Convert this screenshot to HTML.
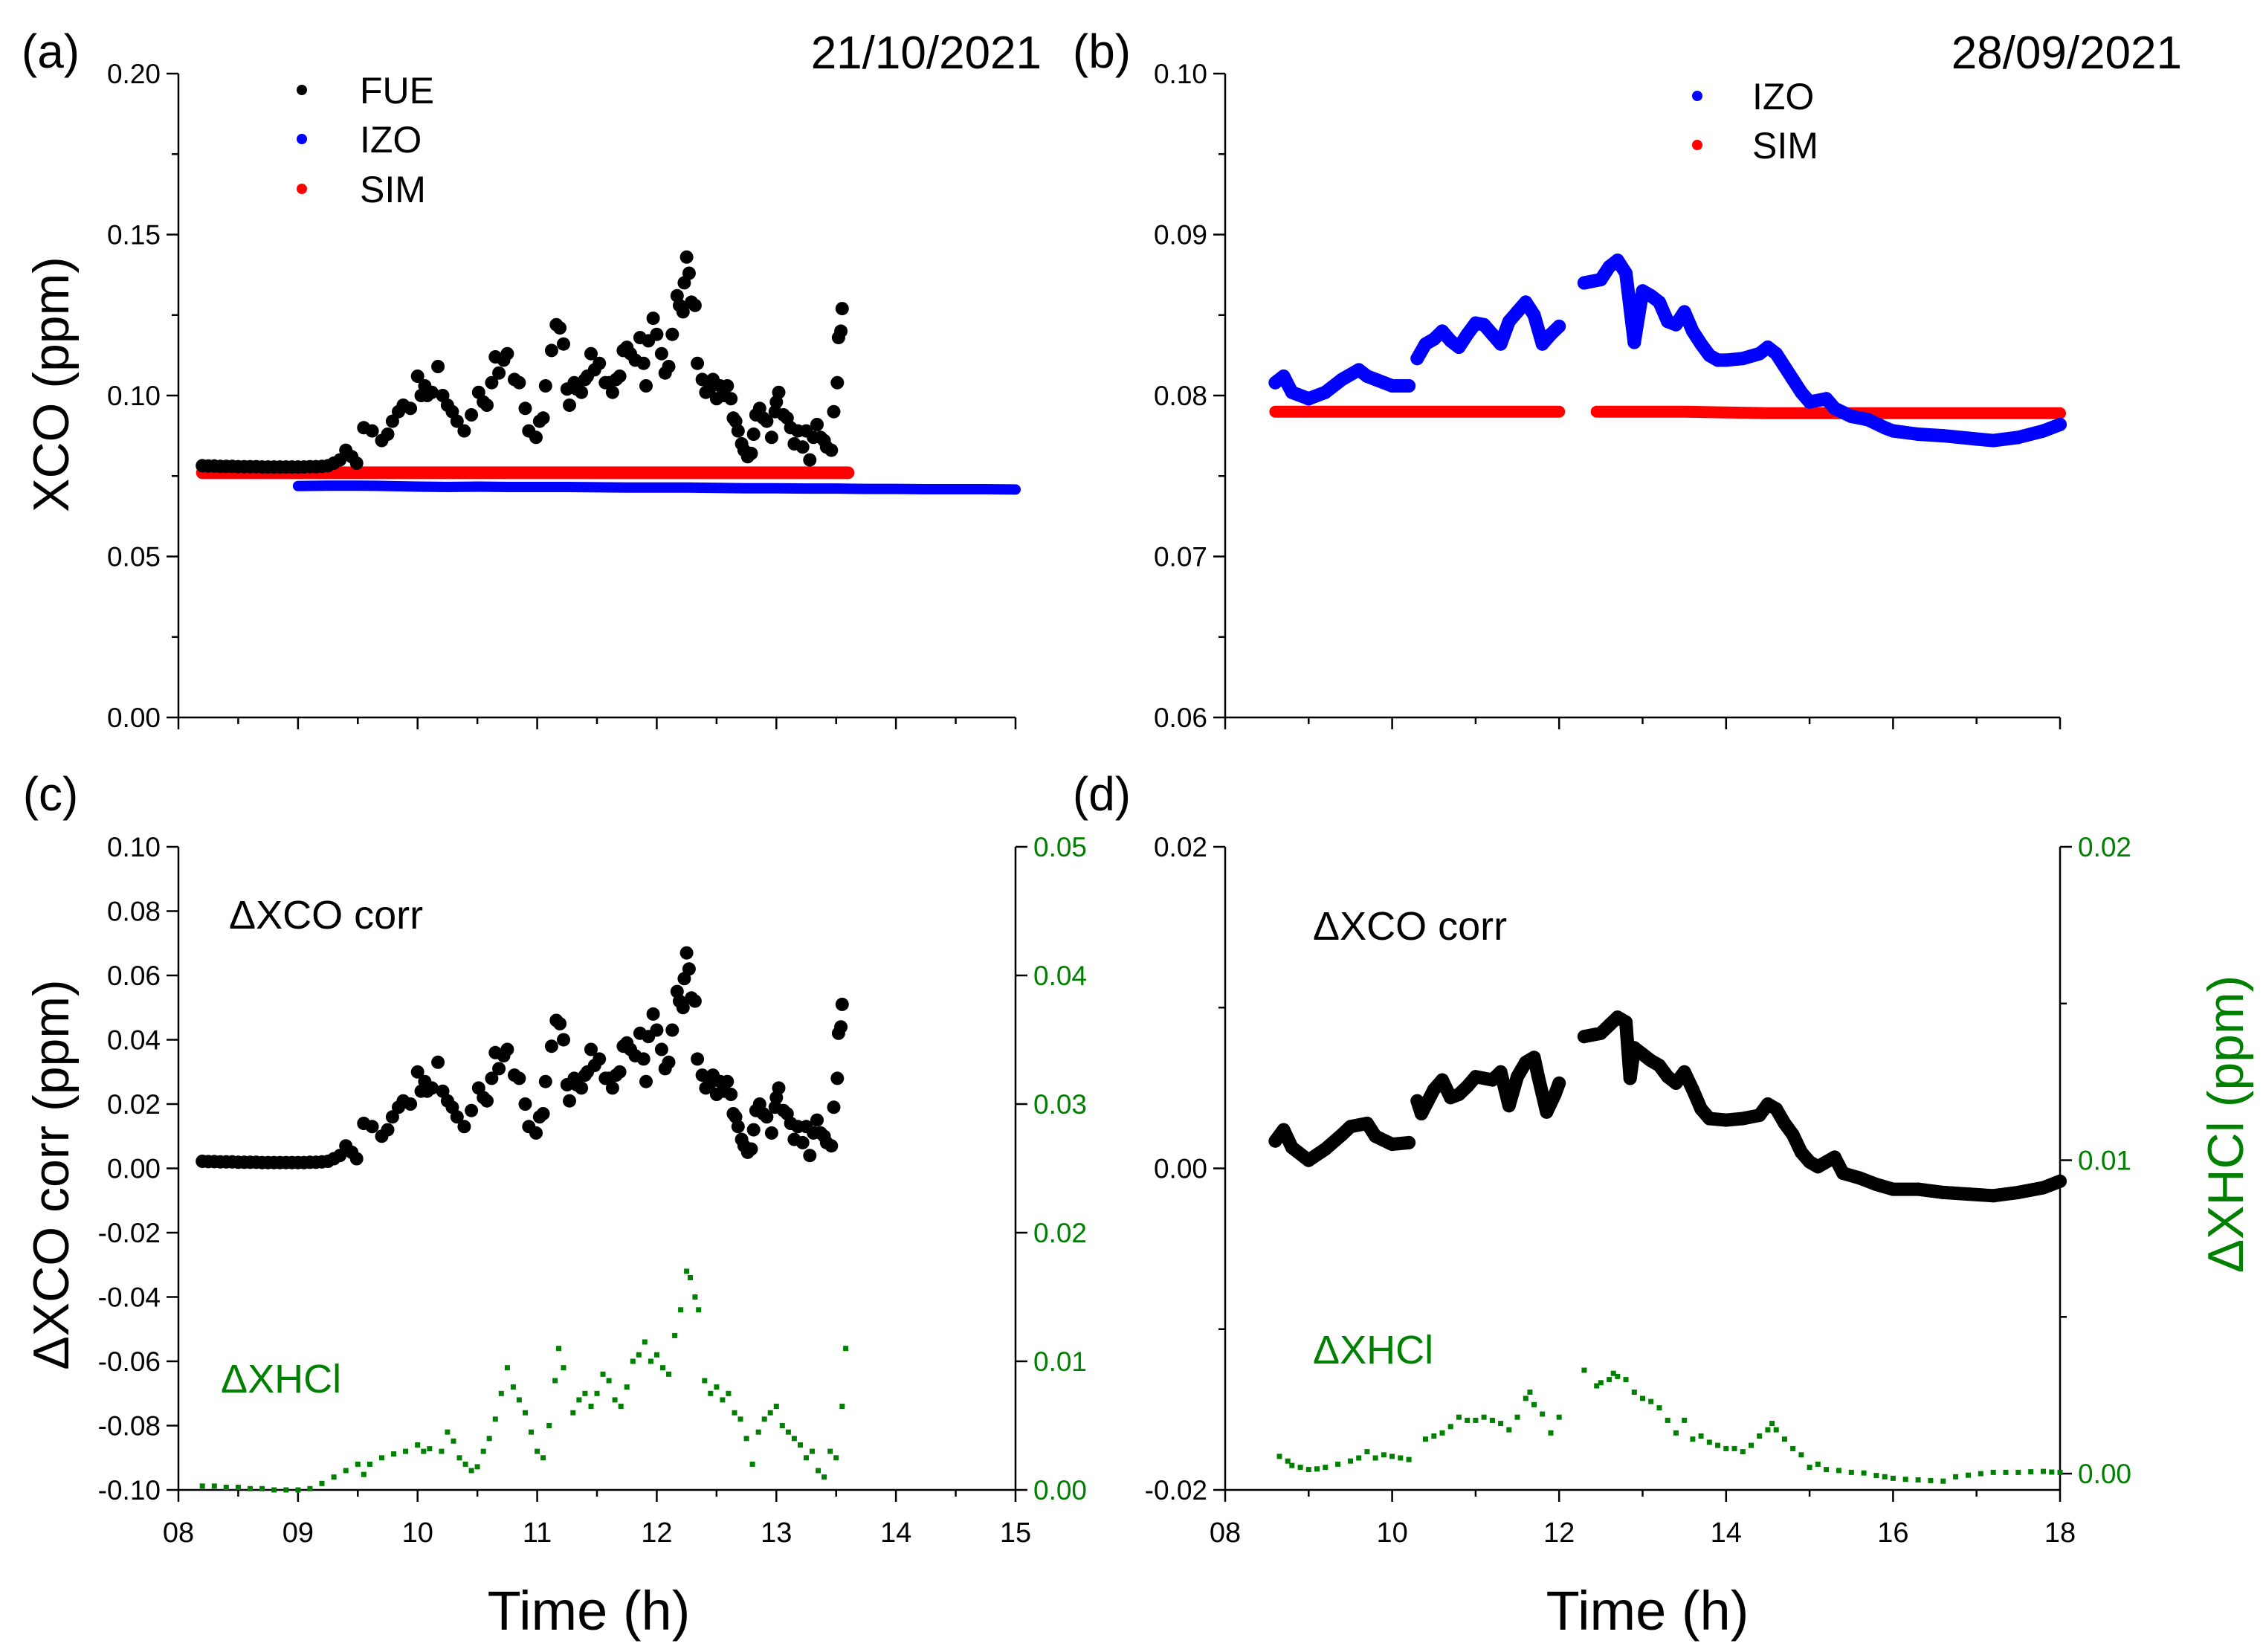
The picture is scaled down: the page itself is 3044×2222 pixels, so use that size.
<!DOCTYPE html>
<html><head><meta charset="utf-8"><style>
html,body{margin:0;padding:0;background:#fff;}
svg{display:block;}
text{font-family:"Liberation Sans Narrow","Liberation Sans",sans-serif;}
</style></head>
<body>
<svg id="chart" xmlns="http://www.w3.org/2000/svg" width="3044" height="2222" viewBox="0 0 3044 2222"></svg>
<script>
// ---------- data ----------
const fueTime = [8.20,8.25,8.30,8.35,8.40,8.45,8.50,8.55,8.60,8.65,8.70,8.75,8.80,8.85,8.90,8.95,9.00,9.05,9.10,9.15,9.20,9.25,9.30,9.35,
9.40,9.45,9.49,9.55,9.62,9.70,9.75,9.79,9.84,9.88,9.94,10.00,10.03,10.06,10.08,10.12,10.17,10.21,10.25,10.29,10.33,10.39,10.45,10.51,10.55,10.58,
10.62,10.65,10.68,10.72,10.75,10.81,10.85,10.90,10.93,10.99,11.02,11.05,11.07,11.12,11.16,11.19,11.22,11.25,11.27,11.31,11.33,11.37,11.40,11.42,11.45,
11.48,11.52,11.57,11.60,11.63,11.66,11.69,11.72,11.75,11.78,11.82,11.86,11.89,11.91,11.93,11.97,12.00,12.04,12.07,12.10,12.13,12.17,12.19,12.22,12.23,
12.25,12.27,12.29,12.32,12.34,12.38,12.41,12.44,12.47,12.50,12.53,12.56,12.59,12.62,12.64,12.66,12.68,12.71,12.73,12.76,12.79,12.81,12.83,12.86,12.89,
12.92,12.96,12.99,13.00,13.02,13.06,13.09,13.12,13.15,13.18,13.22,13.25,13.28,13.31,13.34,13.37,13.40,13.42,13.46,13.48,13.51,13.52,13.54,13.55];
const fueXCO = [0.0782,0.0781,0.0781,0.0780,0.0780,0.0780,0.0779,0.0779,0.0779,0.0779,0.0778,0.0778,0.0778,0.0778,0.0778,0.0778,0.0778,0.0778,0.0779,0.0779,0.0780,0.0782,0.0790,0.0800,
0.083,0.081,0.079,0.090,0.089,0.086,0.088,0.092,0.095,0.097,0.096,0.106,0.100,0.103,0.100,0.101,0.109,0.100,0.097,0.095,0.092,0.089,0.094,0.101,0.098,0.097,
0.104,0.112,0.107,0.111,0.113,0.105,0.104,0.096,0.089,0.087,0.092,0.093,0.103,0.114,0.122,0.121,0.116,0.102,0.097,0.104,0.102,0.101,0.105,0.106,0.113,
0.108,0.110,0.104,0.104,0.101,0.105,0.106,0.114,0.115,0.113,0.111,0.118,0.110,0.103,0.117,0.124,0.119,0.113,0.107,0.109,0.119,0.131,0.128,0.126,0.135,
0.143,0.138,0.129,0.128,0.110,0.105,0.101,0.102,0.105,0.099,0.103,0.100,0.103,0.099,0.093,0.092,0.089,0.085,0.083,0.081,0.082,0.088,0.094,0.096,0.093,
0.092,0.087,0.095,0.098,0.101,0.094,0.093,0.090,0.085,0.089,0.084,0.089,0.080,0.087,0.091,0.087,0.086,0.084,0.083,0.095,0.104,0.118,0.120,0.127];
const corrC = [0.0022,0.0021,0.0021,0.0020,0.0020,0.0020,0.0019,0.0019,0.0019,0.0019,0.0018,0.0018,0.0018,0.0018,0.0018,0.0018,0.0018,0.0018,0.0019,0.0019,0.0020,0.0022,0.0030,0.0040,
0.007,0.005,0.003,0.014,0.013,0.010,0.012,0.016,0.019,0.021,0.020,0.030,0.024,0.027,0.024,0.025,0.033,0.024,0.021,0.019,0.016,0.013,0.018,0.025,0.022,0.021,
0.028,0.036,0.031,0.035,0.037,0.029,0.028,0.020,0.013,0.011,0.016,0.017,0.027,0.038,0.046,0.045,0.040,0.026,0.021,0.028,0.026,0.025,0.029,0.030,0.037,
0.032,0.034,0.028,0.028,0.025,0.029,0.030,0.038,0.039,0.037,0.035,0.042,0.034,0.027,0.041,0.048,0.043,0.037,0.031,0.033,0.043,0.055,0.052,0.050,0.059,
0.067,0.062,0.053,0.052,0.034,0.029,0.025,0.026,0.029,0.023,0.027,0.024,0.027,0.023,0.017,0.016,0.013,0.009,0.007,0.005,0.006,0.012,0.018,0.020,0.017,
0.016,0.011,0.019,0.022,0.025,0.018,0.017,0.014,0.009,0.013,0.008,0.013,0.004,0.011,0.015,0.011,0.010,0.008,0.007,0.019,0.028,0.042,0.044,0.051];
const izoATime = [9.0,9.25,9.5,9.75,10.0,10.25,10.5,10.75,11.0,11.25,11.5,11.75,12.0,12.25,12.5,12.75,13.0,13.25,13.5,13.75,14.0,14.25,14.5,14.75,15.0];
const izoAXCO = [0.0719,0.0720,0.0720,0.0719,0.0717,0.0716,0.0717,0.0716,0.0716,0.0716,0.0715,0.0714,0.0714,0.0714,0.0713,0.0712,0.0712,0.0711,0.0711,0.0710,0.0710,0.0709,0.0709,0.0709,0.0708];
const simATime = [8.2,8.8,9.35,9.9,10.5,11.0,11.5,12.0,12.5,13.0,13.6];
const simAXCO = [0.0760,0.0760,0.0760,0.0760,0.0760,0.0760,0.0760,0.0760,0.0760,0.0760,0.0760];
const hclCTime = [8.2,8.3,8.4,8.5,8.6,8.7,8.8,8.9,9.0,9.1,9.2,9.3,9.4,9.5,9.55,9.6,9.7,9.8,9.9,10.0,10.05,10.1,10.2,10.25,10.3,10.35,10.4,10.45,10.5,10.55,10.6,10.65,10.7,10.75,10.8,10.85,10.9,10.95,11.0,11.05,11.1,11.15,11.18,11.22,11.3,11.35,11.4,11.45,11.5,11.55,11.6,11.65,11.7,11.75,11.8,11.85,11.9,11.95,12.0,12.05,12.1,12.15,12.2,12.25,12.28,12.32,12.35,12.4,12.45,12.5,12.55,12.6,12.65,12.7,12.75,12.8,12.85,12.9,12.95,13.0,13.05,13.1,13.15,13.2,13.25,13.3,13.35,13.4,13.45,13.5,13.55,13.58];
const hclCVal = [0.0003,0.0003,0.0002,0.0002,0.0001,0.0001,0.0000,0.0000,0.0000,0.0001,0.0005,0.0010,0.0015,0.0020,0.0012,0.0020,0.0025,0.0028,0.0030,0.0035,0.0030,0.0032,0.0030,0.0045,0.0038,0.0025,0.0020,0.0015,0.0018,0.0030,0.0040,0.0055,0.0075,0.0095,0.0080,0.0070,0.0060,0.0045,0.0030,0.0025,0.0050,0.0085,0.0110,0.0095,0.0060,0.0070,0.0075,0.0065,0.0075,0.0090,0.0085,0.0070,0.0065,0.0080,0.0100,0.0105,0.0115,0.0100,0.0105,0.0095,0.0090,0.0120,0.0140,0.0170,0.0165,0.0150,0.0140,0.0085,0.0075,0.0080,0.0070,0.0075,0.0060,0.0055,0.0040,0.0020,0.0045,0.0055,0.0060,0.0065,0.0050,0.0045,0.0040,0.0035,0.0025,0.0030,0.0015,0.0010,0.0030,0.0025,0.0065,0.0110];
const izoBTime = [8.6,8.7,8.8,9.0,9.2,9.4,9.6,9.7,9.8,10.0,10.2,null,10.3,10.4,10.5,10.6,10.7,10.8,10.9,11.0,11.1,11.2,11.3,11.4,11.5,11.6,11.7,11.8,11.9,12.0,null,12.3,12.5,12.6,12.7,12.8,12.9,13.0,13.1,13.2,13.3,13.4,13.5,13.6,13.7,13.8,13.9,14.0,14.2,14.4,14.5,14.6,14.7,14.8,14.9,15.0,15.2,15.3,15.5,15.7,15.9,16.0,16.3,16.6,17.0,17.2,17.5,17.8,18.0];
const izoBXCO = [0.0808,0.0812,0.0802,0.0798,0.0802,0.0810,0.0816,0.0812,0.0810,0.0806,0.0806,null,0.0823,0.0832,0.0835,0.0840,0.0834,0.0830,0.0838,0.0845,0.0844,0.0838,0.0832,0.0846,0.0852,0.0858,0.0850,0.0832,0.0838,0.0843,null,0.0870,0.0872,0.0880,0.0884,0.0876,0.0833,0.0865,0.0862,0.0858,0.0846,0.0844,0.0852,0.0840,0.0832,0.0825,0.0822,0.0822,0.0823,0.0826,0.0830,0.0826,0.0818,0.0810,0.0802,0.0796,0.0798,0.0792,0.0787,0.0785,0.0780,0.0778,0.0776,0.0775,0.0773,0.0772,0.0774,0.0778,0.0782];
const simBTime = [8.6,9.5,10.5,11.5,12.0,null,12.3,null,12.45,12.5,13.5,14.5,15.5,16.5,17.5,18.0];
const simBXCO = [0.0790,0.0790,0.0790,0.0790,0.0790,null,0.0790,null,0.0790,0.0790,0.0790,0.0789,0.0789,0.0789,0.0789,0.0789];
const corrDTime = [8.6,8.7,8.8,9.0,9.2,9.4,9.5,9.7,9.8,10.0,10.2,null,10.3,10.35,10.5,10.6,10.7,10.8,10.9,11.0,11.2,11.3,11.4,11.5,11.6,11.7,11.75,11.85,11.95,12.0,null,12.3,12.5,12.6,12.7,12.8,12.85,12.9,13.0,13.1,13.2,13.3,13.4,13.5,13.6,13.7,13.8,14.0,14.2,14.4,14.5,14.6,14.7,14.8,14.9,15.0,15.1,15.3,15.4,15.6,15.8,16.0,16.3,16.6,16.9,17.2,17.5,17.8,18.0];
const corrDVal = [0.0017,0.0024,0.0013,0.0005,0.0012,0.0021,0.0026,0.0028,0.0020,0.0015,0.0016,null,0.0042,0.0034,0.0049,0.0055,0.0044,0.0046,0.0051,0.0057,0.0055,0.0060,0.0039,0.0057,0.0066,0.0069,0.0057,0.0035,0.0046,0.0053,null,0.0082,0.0084,0.0089,0.0094,0.0091,0.0056,0.0075,0.0071,0.0067,0.0064,0.0057,0.0053,0.0060,0.0049,0.0037,0.0031,0.0030,0.0031,0.0033,0.0040,0.0037,0.0028,0.0021,0.0010,0.0004,0.0001,0.0007,-0.0003,-0.0006,-0.0010,-0.0013,-0.0013,-0.0015,-0.0016,-0.0017,-0.0015,-0.0012,-0.0008];
const hclDTime = [8.65,8.75,8.8,8.9,9.0,9.1,9.2,9.35,9.5,9.6,9.7,9.8,9.9,10.0,10.1,10.2,10.4,10.5,10.6,10.7,10.8,10.9,11.0,11.1,11.2,11.3,11.4,11.5,11.6,11.65,11.7,11.8,11.9,12.0,12.3,12.45,12.5,12.6,12.65,12.7,12.8,12.9,13.0,13.1,13.2,13.3,13.4,13.5,13.6,13.7,13.8,13.9,14.0,14.1,14.2,14.3,14.4,14.5,14.55,14.6,14.7,14.8,14.9,15.0,15.1,15.2,15.35,15.5,15.65,15.8,15.9,16.0,16.15,16.3,16.45,16.6,16.75,16.9,17.05,17.2,17.35,17.5,17.65,17.8,17.9,18.0];
const hclDVal = [0.00055,0.0004,0.00026,0.0002,0.00013,0.00015,0.0002,0.0003,0.0004,0.0005,0.0007,0.0005,0.0006,0.00055,0.0005,0.00045,0.0011,0.0012,0.0013,0.0015,0.0018,0.0017,0.0017,0.0018,0.0017,0.0016,0.0014,0.0018,0.0024,0.0026,0.0022,0.0019,0.0013,0.0018,0.0033,0.0028,0.0029,0.0030,0.0032,0.0031,0.0030,0.0026,0.0024,0.0023,0.0021,0.0017,0.0013,0.0017,0.0011,0.0012,0.0010,0.0009,0.0008,0.0008,0.0007,0.0009,0.0012,0.0014,0.0016,0.0014,0.0011,0.0008,0.0006,0.0002,0.0003,0.00013,0.0001,0.00004,0.00002,-0.00006,-0.0001,-0.00015,-0.00018,-0.0002,-0.00022,-0.00024,-0.0001,-0.00005,0.0,0.00004,0.00004,0.00004,0.00006,0.00007,0.00005,0.00004];

const xTicksAC = ["08","09","10","11","12","13","14","15"];
const xTicksBD = ["08","10","12","14","16","18"];
const yTicksA = ["0.00","0.05","0.10","0.15","0.20"];
const yTicksB = ["0.06","0.07","0.08","0.09","0.10"];
const yTicksC = ["-0.10","-0.08","-0.06","-0.04","-0.02","0.00","0.02","0.04","0.06","0.08","0.10"];
const yTicksCR = ["0.00","0.01","0.02","0.03","0.04","0.05"];
const yTicksD = ["-0.02","0.00","0.02"];
const yTicksDR = ["0.00","0.01","0.02"];

// ---------- drawing ----------
const NS = "http://www.w3.org/2000/svg";
const svg = document.getElementById("chart");
function mk(tag, attrs, parent) {
  const e = document.createElementNS(NS, tag);
  for (const k in attrs) e.setAttribute(k, attrs[k]);
  (parent || svg).appendChild(e);
  return e;
}
function txt(x, y, s, size, fill, anchor, name, rot, fam) {
  const t = mk("text", {x: x, y: y, "font-size": size, fill: fill, "text-anchor": anchor || "start"});
  if (fam) t.setAttribute("style", "font-family:" + fam);
  if (rot) t.setAttribute("transform", "rotate(" + rot + " " + x + " " + y + ")");
  t.textContent = s;
  
  
  return t;
}
function scale(d0, d1, p0, p1) { return v => p0 + (v - d0) / (d1 - d0) * (p1 - p0); }

function axes(P, name) {
  const g = mk("g", {stroke: "#000", "stroke-width": 2.5, fill: "none"});
  
  
  mk("line", {x1: P.L, y1: P.T, x2: P.L, y2: P.B + 1}, g);
  mk("line", {x1: P.L, y1: P.B, x2: P.R, y2: P.B}, g);
  return g;
}
function xTicks(P, sx, labels, step, x0, showLabels, name) {
  const g = mk("g", {stroke: "#000", "stroke-width": 2.5});
  
  
  labels.forEach((lab, i) => {
    const v = x0 + i * step;
    mk("line", {x1: sx(v), y1: P.B, x2: sx(v), y2: P.B + 16}, g);
    if (i < labels.length - 1) mk("line", {x1: sx(v + step / 2), y1: P.B, x2: sx(v + step / 2), y2: P.B + 9}, g);
    if (showLabels) txt(sx(v), P.B + 70, lab, 38, "#000", "middle", "x-tick-label");
  });
}
function yTicks(P, sy, labels, side, color, minor, name) {
  const g = mk("g", {stroke: "#000", "stroke-width": 2.5});
  
  
  const x = side === "left" ? P.L : P.R;
  const dir = side === "left" ? -1 : 1;
  labels.forEach((lab, i) => {
    const v = parseFloat(lab);
    mk("line", {x1: x, y1: sy(v), x2: x + dir * 16, y2: sy(v)}, g);
    if (minor && i < labels.length - 1) {
      const m = (v + parseFloat(labels[i + 1])) / 2;
      mk("line", {x1: x, y1: sy(m), x2: x + dir * 9, y2: sy(m)}, g);
    }
    if (side === "left") txt(P.L - 24, sy(v) + 13, lab, 37, color, "end", "y-tick-label");
    else txt(P.R + 24, sy(v) + 13, lab, 37, color, "start", "y2-tick-label");
  });
}
function band(ts, vs, sx, sy, color, w, name) {
  let d = "", pen = false;
  for (let i = 0; i < ts.length; i++) {
    if (ts[i] === null || vs[i] === null) { pen = false; continue; }
    d += (pen ? "L" : "M") + sx(ts[i]).toFixed(1) + " " + sy(vs[i]).toFixed(1);
    pen = true;
  }
  const p = mk("path", {d: d, stroke: color, "stroke-width": w, fill: "none", "stroke-linecap": "round", "stroke-linejoin": "round"});
  
  
}
function dots(ts, vs, sx, sy, color, r, name) {
  const g = mk("g", {fill: color});
  
  
  for (let i = 0; i < ts.length; i++) {
    if (ts[i] === null || vs[i] === null) continue;
    const c = mk("circle", {cx: sx(ts[i]).toFixed(1), cy: sy(vs[i]).toFixed(1), r: r}, g);
    
  }
}
function squares(ts, vs, sx, sy, color, s, name) {
  const g = mk("g", {fill: color});
  
  
  for (let i = 0; i < ts.length; i++) {
    const r = mk("rect", {x: (sx(ts[i]) - s / 2).toFixed(1), y: (sy(vs[i]) - s / 2).toFixed(1), width: s, height: s}, g);
    
  }
}

const GREEN = "#008000";
const PA = {L: 240, R: 1366, T: 99, B: 965};
const PB = {L: 1648, R: 2771, T: 99, B: 965};
const PC = {L: 240, R: 1366, T: 1139, B: 2004};
const PD = {L: 1648, R: 2771, T: 1139, B: 2004};

// Panel (a)
{
  const sx = scale(8, 15, PA.L, PA.R), sy = scale(0, 0.2, PA.B, PA.T);
  axes(PA, "panel-a-axes");
  xTicks(PA, sx, xTicksAC, 1, 8, false, "panel-a-x-ticks");
  yTicks(PA, sy, yTicksA, "left", "#000", true, "panel-a-y-ticks");
  band(izoATime, izoAXCO, sx, sy, "#0000ff", 14, "izo-series-a");
  band(simATime, simAXCO, sx, sy, "#ff0000", 17, "sim-series-a");
  band(fueTime.slice(0, 23), fueXCO.slice(0, 23), sx, sy, "#000", 15, "fue-flat-a");
  dots(fueTime, fueXCO, sx, sy, "#000", 9, "fue-series-a");
  txt(68, 91, "(a)", 64, "#000", "middle", "panel-a-label", 0, '"Liberation Sans",sans-serif');
  txt(1401, 92, "21/10/2021", 62, "#000", "end", "panel-a-date", 0, '"Liberation Sans",sans-serif');
  txt(70, 517, "XCO (ppm)", 68, "#000", "middle", "y-axis-title-a", -90, '"Liberation Sans",sans-serif').setAttribute("dy", "22");
  const lg = [["FUE", "#000", 121], ["IZO", "#0000ff", 187], ["SIM", "#ff0000", 254]];
  lg.forEach(l => {
    const c = mk("circle", {cx: 406, cy: l[2], r: 7, fill: l[1]});
    
    
    txt(484, l[2] + 18, l[0], 50, "#000", "start", "legend-entry", 0, '"Liberation Sans",sans-serif');
  });
}
// Panel (b)
{
  const sx = scale(8, 18, PB.L, PB.R), sy = scale(0.06, 0.10, PB.B, PB.T);
  axes(PB, "panel-b-axes");
  xTicks(PB, sx, xTicksBD, 2, 8, false, "panel-b-x-ticks");
  yTicks(PB, sy, yTicksB, "left", "#000", true, "panel-b-y-ticks");
  band(simBTime, simBXCO, sx, sy, "#ff0000", 16, "sim-series-b");
  band(izoBTime, izoBXCO, sx, sy, "#0000ff", 18, "izo-series-b");
  dots(izoBTime, izoBXCO, sx, sy, "#0000ff", 9, "izo-points-b");
  txt(1482, 91, "(b)", 64, "#000", "middle", "panel-b-label", 0, '"Liberation Sans",sans-serif');
  txt(2935, 92, "28/09/2021", 62, "#000", "end", "panel-b-date", 0, '"Liberation Sans",sans-serif');
  const lg = [["IZO", "#0000ff", 129], ["SIM", "#ff0000", 195]];
  lg.forEach(l => {
    const c = mk("circle", {cx: 2283, cy: l[2], r: 7, fill: l[1]});
    
    
    txt(2357, l[2] + 18, l[0], 50, "#000", "start", "legend-entry", 0, '"Liberation Sans",sans-serif');
  });
}
// Panel (c)
{
  const sx = scale(8, 15, PC.L, PC.R), sy = scale(-0.10, 0.10, PC.B, PC.T), sy2 = scale(0, 0.05, PC.B, PC.T);
  axes(PC, "panel-c-axes");
  const ra = mk("line", {x1: PC.R, y1: PC.T, x2: PC.R, y2: PC.B, stroke: "#000", "stroke-width": 2.5});
  
  xTicks(PC, sx, xTicksAC, 1, 8, true, "panel-c-x-ticks");
  yTicks(PC, sy, yTicksC, "left", "#000", false, "panel-c-y-ticks");
  yTicks(PC, sy2, yTicksCR, "right", GREEN, false, "panel-c-y2-ticks");
  band(fueTime.slice(0, 23), corrC.slice(0, 23), sx, sy, "#000", 15, "corr-flat-c");
  dots(fueTime, corrC, sx, sy, "#000", 9, "corr-series-c");
  squares(hclCTime, hclCVal, sx, sy2, GREEN, 7, "hcl-series-c");
  txt(68, 1090, "(c)", 64, "#000", "middle", "panel-c-label", 0, '"Liberation Sans",sans-serif');
  txt(308, 1249, "ΔXCO corr", 54, "#000", "start", "corr-label-c", 0, '"Liberation Sans",sans-serif');
  txt(297, 1873, "ΔXHCl", 54, GREEN, "start", "hcl-label-c", 0, '"Liberation Sans",sans-serif');
  txt(70, 1580, "ΔXCO corr (ppm)", 68, "#000", "middle", "y-axis-title-c", -90, '"Liberation Sans",sans-serif').setAttribute("dy", "22");
  txt(792, 2192, "Time (h)", 74, "#000", "middle", "x-axis-title-c", 0, '"Liberation Sans",sans-serif');
}
// Panel (d)
{
  const sx = scale(8, 18, PD.L, PD.R), sy = scale(-0.02, 0.02, PD.B, PD.T), sy2 = scale(-0.00052, 0.02, PD.B, PD.T);
  axes(PD, "panel-d-axes");
  const ra = mk("line", {x1: PD.R, y1: PD.T, x2: PD.R, y2: PD.B, stroke: "#000", "stroke-width": 2.5});
  
  xTicks(PD, sx, xTicksBD, 2, 8, true, "panel-d-x-ticks");
  yTicks(PD, sy, yTicksD, "left", "#000", true, "panel-d-y-ticks");
  yTicks(PD, sy2, yTicksDR, "right", GREEN, true, "panel-d-y2-ticks");
  band(corrDTime, corrDVal, sx, sy, "#000", 18, "corr-series-d");
  dots(corrDTime, corrDVal, sx, sy, "#000", 9, "corr-points-d");
  squares(hclDTime, hclDVal, sx, sy2, GREEN, 7, "hcl-series-d");
  txt(1482, 1090, "(d)", 64, "#000", "middle", "panel-d-label", 0, '"Liberation Sans",sans-serif');
  txt(1766, 1264, "ΔXCO corr", 54, "#000", "start", "corr-label-d", 0, '"Liberation Sans",sans-serif');
  txt(1766, 1834, "ΔXHCl", 54, GREEN, "start", "hcl-label-d", 0, '"Liberation Sans",sans-serif');
  txt(2995, 1512, "ΔXHCl (ppm)", 68, GREEN, "middle", "y2-axis-title-d", -90, '"Liberation Sans",sans-serif').setAttribute("dy", "22");
  txt(2216, 2192, "Time (h)", 74, "#000", "middle", "x-axis-title-d", 0, '"Liberation Sans",sans-serif');
}
</script>
</body></html>
